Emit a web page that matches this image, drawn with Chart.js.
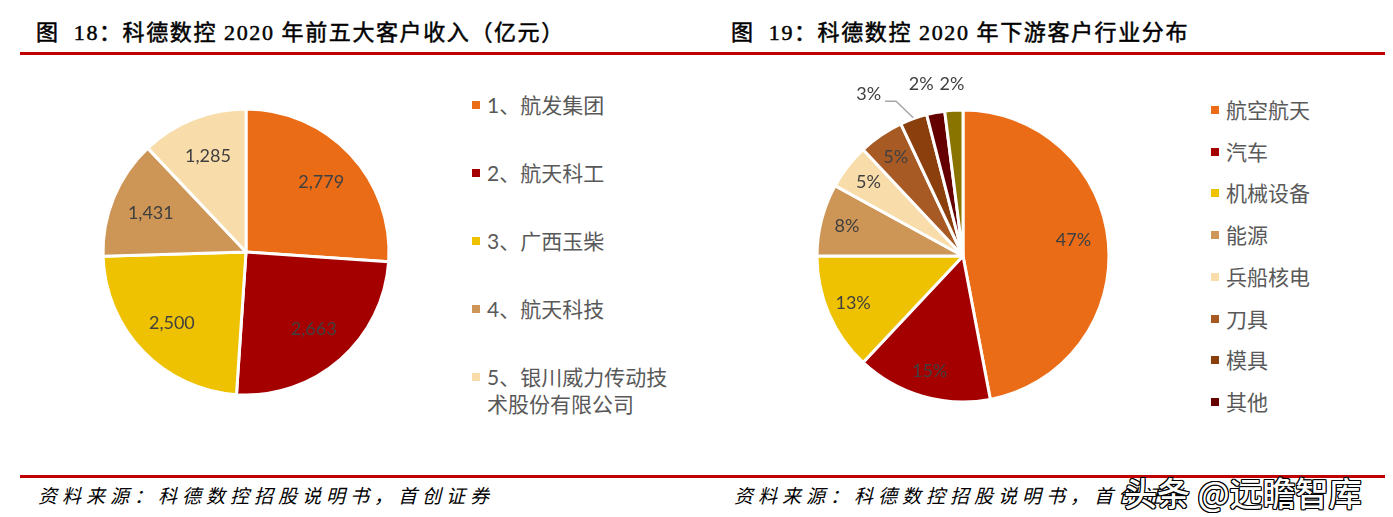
<!DOCTYPE html>
<html>
<head>
<meta charset="utf-8">
<script src="https://cdn.jsdelivr.net/npm/chart.js@4/dist/chart.umd.min.js"></script>
<style>
  body { margin: 0; background: #fff; }
  #page { position: relative; width: 1393px; height: 517px; overflow: hidden; background: #fff; }
  .title { position: absolute; top: 14px; font: 22px "Liberation Serif", "Noto Sans CJK SC", serif; letter-spacing: 1.6px; color: #000; white-space: pre; -webkit-text-stroke: 0.5px #000; }
  .rule { position: absolute; height: 3px; background: #C00000; }
  .source { position: absolute; top: 481px; font: italic 19px "Liberation Serif", "Noto Sans CJK SC", serif; letter-spacing: 5px; color: #000; white-space: pre; }
  canvas { position: absolute; }
  .lg { position: absolute; font: 21px Lato, "Noto Sans CJK SC", sans-serif; color: #595959; line-height: 27px; }
  .lg i { position: absolute; width: 8px; height: 8px; top: 10px; }
  .mark { position: absolute; left: 1124px; top: 468px; font: 500 33px "Noto Sans CJK SC", sans-serif; color: #fff; white-space: pre;
          text-shadow: 1px 0 #000, -1px 0 #000, 0 1px #000, 0 -1px #000, 1px 1px #000, -1px -1px #000, 1px -1px #000, -1px 1px #000; }
</style>
</head>
<body>
<div id="page">
  <div class="title" style="left:36px">图  18：科德数控 2020 年前五大客户收入（亿元）</div>
  <div class="title" style="left:731px">图  19：科德数控 2020 年下游客户行业分布</div>
  <div class="rule" style="left:20px; width:1365px; top:52px"></div>
  <div class="rule" style="left:20px; width:1365px; top:475px"></div>
  <div class="source" style="left:38px">资料来源：科德数控招股说明书，首创证券</div>
  <div class="source" style="left:734px">资料来源：科德数控招股说明书，首创证券</div>
  <canvas id="customers" width="320" height="320" style="left:86px; top:92px"></canvas>
  <canvas id="industries" width="340" height="400" style="left:793px; top:56px"></canvas>
  <div class="mark">头条 @远瞻智库</div>
</div>
<script>
// 前五大客户收入（亿元）
const customerNames = ['1、航发集团', '2、航天科工', '3、广西玉柴', '4、航天科技', '5、银川威力传动技术股份有限公司'];
const customerRevenue = [2779, 2663, 2500, 1431, 1285];
const customerColors = ['#EA6C17', '#A50000', '#EEC200', '#CD9656', '#F8DDAA'];

// 下游客户行业分布（%），最后一块没有图例
const industryNames = ['航空航天', '汽车', '机械设备', '能源', '兵船核电', '刀具', '模具', '其他', ''];
const industryShare = [47, 15, 13, 8, 5, 5, 3, 2, 2];
const industryColors = ['#EA6C17', '#A50000', '#EEC200', '#CD9656', '#F8DDAA', '#A75A24', '#8B3F0D', '#650000', '#8A7400'];

function labelPlugin(format, k, place) {
  return {
    id: 'sliceLabels',
    afterDatasetsDraw(chart) {
      const ctx = chart.ctx;
      const meta = chart.getDatasetMeta(0);
      const values = chart.data.datasets[0].data;
      ctx.save();
      ctx.font = '18px Lato, "Noto Sans", sans-serif';
      ctx.fillStyle = '#404040';
      ctx.textAlign = 'center';
      ctx.textBaseline = 'middle';
      meta.data.forEach((arc, i) => {
        const p = arc.getProps(['x', 'y', 'startAngle', 'endAngle', 'outerRadius'], true);
        const mid = (p.startAngle + p.endAngle) / 2;
        const o = place[i] || {};
        const r = p.outerRadius * (o.r || k);
        const lx = p.x + Math.cos(mid) * r + (o.dx || 0);
        const ly = p.y + Math.sin(mid) * r + (o.dy || 0);
        const text = format(values[i]);
        if (o.leader) {
          const w = ctx.measureText(text).width;
          const ex = p.x + Math.cos(mid) * (p.outerRadius + 1);
          const ey = p.y + Math.sin(mid) * (p.outerRadius + 1);
          ctx.strokeStyle = '#A6A6A6';
          ctx.lineWidth = 1.5;
          ctx.beginPath();
          ctx.moveTo(lx + w / 2 + 4, ly + 7);
          ctx.lineTo(lx + w / 2 + 15, ly + 7);
          ctx.lineTo(ex, ey);
          ctx.stroke();
        }
        ctx.fillText(text, lx, ly);
      });
      ctx.restore();
    }
  };
}

function pieConfig(labels, data, colors, radius, plugin) {
  return {
    type: 'pie',
    data: {
      labels: labels,
      datasets: [{
        data: data,
        backgroundColor: colors,
        borderColor: '#fff',
        borderWidth: 3,
        radius: radius
      }]
    },
    options: {
      responsive: false,
      animation: false,
      events: [],
      plugins: { legend: { display: false }, tooltip: { enabled: false } }
    },
    plugins: [plugin]
  };
}

new Chart(document.getElementById('customers'),
  pieConfig(customerNames, customerRevenue, customerColors, 143,
    labelPlugin(v => v.toLocaleString('en-US'), 0.72, {})));

new Chart(document.getElementById('industries'),
  pieConfig(industryNames, industryShare, industryColors, 146,
    labelPlugin(v => v + '%', 0.82, {
      0: { r: 0.76, dy: -5 },
      6: { r: 1.2, dx: -35, dy: 3, leader: true },
      7: { r: 1.2, dx: -9 },
      8: { r: 1.2, dy: 3 }
    })));

// 图例
function legend(names, colors, left, top, step, width) {
  const page = document.getElementById('page');
  names.forEach((name, i) => {
    if (!name) return;
    const d = document.createElement('div');
    d.className = 'lg';
    d.style.left = (left + 15) + 'px';
    d.style.top = (top + i * step - 13) + 'px';
    d.style.width = width + 'px';
    d.textContent = name;
    const sq = document.createElement('i');
    sq.style.left = '-15px';
    sq.style.background = colors[i];
    d.appendChild(sq);
    page.appendChild(d);
  });
}
legend(customerNames, customerColors, 472, 104, 68, 190);
legend(industryNames, industryColors, 1211, 109, 41.7, 170);
</script>
</body>
</html>
